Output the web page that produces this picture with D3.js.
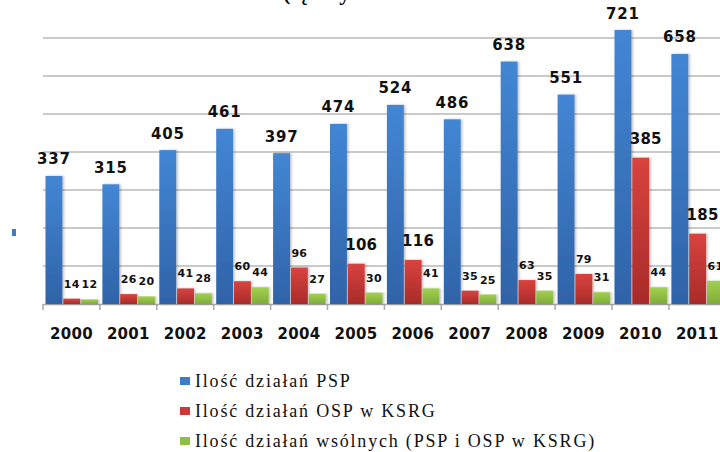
<!DOCTYPE html>
<html>
<head>
<meta charset="utf-8">
<script src="https://cdn.jsdelivr.net/npm/d3@7"></script>
<style>
  body { margin: 0; background: #fff; }
  svg { display: block; }
</style>
</head>
<body>
<script>
var width = 720;
var height = 452;

var years = ["2000", "2001", "2002", "2003", "2004", "2005", "2006", "2007", "2008", "2009", "2010", "2011"];
var psp = [337, 315, 405, 461, 397, 474, 524, 486, 638, 551, 721, 658];
var osp = [14, 26, 41, 60, 96, 106, 116, 35, 63, 79, 385, 185];
var wspolne = [12, 20, 28, 44, 27, 30, 41, 25, 35, 31, 44, 61];
var seriesNames = ["Ilość działań PSP", "Ilość działań OSP w KSRG", "Ilość działań wsólnych (PSP i OSP w KSRG)"];
var gridTicks = [100, 200, 300, 400, 500, 600, 700];

var colors = [
  { top: "#4386d4", bottom: "#2f63a8", key: "#3f7cc8" },
  { top: "#d9433f", bottom: "#a82b29", key: "#c83b37" },
  { top: "#a2d04e", bottom: "#7fab3a", key: "#8fc045" }
];

var series = [psp, osp, wspolne];

var svg = d3.select("body")
  .append("svg")
  .attr("width", width)
  .attr("height", height);

var defs = svg.append("defs");
colors.forEach(function (c, i) {
  var g = defs.append("linearGradient")
    .attr("id", "grad" + i)
    .attr("x1", 0).attr("y1", 0).attr("x2", 0).attr("y2", 1);
  g.append("stop").attr("offset", "0%").attr("stop-color", c.top);
  g.append("stop").attr("offset", "100%").attr("stop-color", c.bottom);
});
var shadow = defs.append("filter").attr("id", "shadow")
  .attr("x", "-20%").attr("y", "-5%").attr("width", "150%").attr("height", "110%");
shadow.append("feDropShadow")
  .attr("dx", 1.5).attr("dy", 0).attr("stdDeviation", 1)
  .attr("flood-color", "#000").attr("flood-opacity", 0.25);

var y = d3.scaleLinear().domain([0, 800]).range([304, 0]);
var x = d3.scaleBand().domain(years).range([43, 43 + 12 * 56.9]).padding(0);
var xs = d3.scaleBand().domain([0, 1, 2]).range([2.5, 55]).paddingInner(0.05);

// title fragment cut at the top
svg.append("text")
  .attr("x", 283)
  .attr("y", 0)
  .style("font-family", "Liberation Serif")
  .style("font-weight", "bold")
  .style("font-size", "22px")
  .text("(łączny");

// gridlines
svg.append("g")
  .selectAll("line")
  .data(gridTicks)
  .enter().append("line")
  .attr("x1", 43)
  .attr("x2", width)
  .attr("y1", function (d) { return y(d); })
  .attr("y2", function (d) { return y(d); })
  .style("stroke", "#b9b9b9")
  .style("stroke-width", 1.5);

// x axis
var xAxis = svg.append("g")
  .attr("transform", "translate(0," + y(0) + ")")
  .call(d3.axisBottom(x).tickSize(0).tickPadding(24));
xAxis.select(".domain").attr("stroke", "#a8a8a8").attr("stroke-width", 1.5);
xAxis.selectAll("text")
  .style("font-family", "DejaVu Sans")
  .style("font-weight", "bold")
  .style("font-size", "15px")
  .style("letter-spacing", "0.3px")
  .attr("fill", "#111");
xAxis.selectAll(".bound")
  .data(d3.range(13))
  .enter().append("line")
  .attr("class", "bound")
  .attr("x1", function (i) { return x.range()[0] + i * x.step(); })
  .attr("x2", function (i) { return x.range()[0] + i * x.step(); })
  .attr("y1", 0)
  .attr("y2", 6)
  .attr("stroke", "#a8a8a8")
  .attr("stroke-width", 1.5);

// bars
var groups = svg.append("g")
  .selectAll("g")
  .data(years)
  .enter().append("g")
  .attr("transform", function (d) { return "translate(" + x(d) + ",0)"; });

groups.selectAll("rect")
  .data(function (d, yi) { return series.map(function (s, si) { return { si: si, v: s[yi] }; }); })
  .enter().append("rect")
  .attr("x", function (d) { return xs(d.si); })
  .attr("width", xs.bandwidth())
  .attr("y", function (d) { return y(d.v); })
  .attr("height", function (d) { return y(0) - y(d.v); })
  .attr("fill", function (d) { return "url(#grad" + d.si + ")"; })
  .attr("filter", "url(#shadow)");

// value labels
groups.selectAll("text.val")
  .data(function (d, yi) { return series.map(function (s, si) { return { si: si, v: s[yi] }; }); })
  .enter().append("text")
  .attr("class", "val")
  .attr("text-anchor", "middle")
  .attr("x", function (d) {
    var cx = xs(d.si) + xs.bandwidth() / 2;
    if (d.si === 1 && d.v >= 100) cx += 5;
    return cx;
  })
  .attr("y", function (d) {
    if (d.si === 0) return y(d.v) - 11.5;
    if (d.v >= 100) return y(d.v) - 14;
    return y(d.v) - 11;
  })
  .style("font-family", "DejaVu Sans")
  .style("font-weight", "bold")
  .style("font-size", function (d) { return (d.si === 0 || d.v >= 100) ? "15px" : "11px"; })
  .style("letter-spacing", function (d) { return d.si === 0 ? "0.8px" : "0.3px"; })
  .attr("fill", "#111")
  .text(function (d) { return d.v; });

// stray legend marker at left
svg.append("rect")
  .attr("x", 12).attr("y", 229).attr("width", 4).attr("height", 7)
  .attr("fill", colors[0].key);

// legend
var legend = svg.append("g")
  .selectAll("g")
  .data(seriesNames)
  .enter().append("g")
  .attr("transform", function (d, i) { return "translate(180," + (387 + i * 30) + ")"; });
legend.append("rect")
  .attr("x", 0).attr("y", -10).attr("width", 10).attr("height", 8)
  .attr("fill", function (d, i) { return colors[i].key; });
legend.append("text")
  .attr("x", 15)
  .attr("y", 0)
  .style("font-family", "Liberation Serif")
  .style("font-size", "18px")
  .style("letter-spacing", "1.8px")
  .attr("fill", "#111")
  .text(function (d) { return d; });
</script>
</body>
</html>
